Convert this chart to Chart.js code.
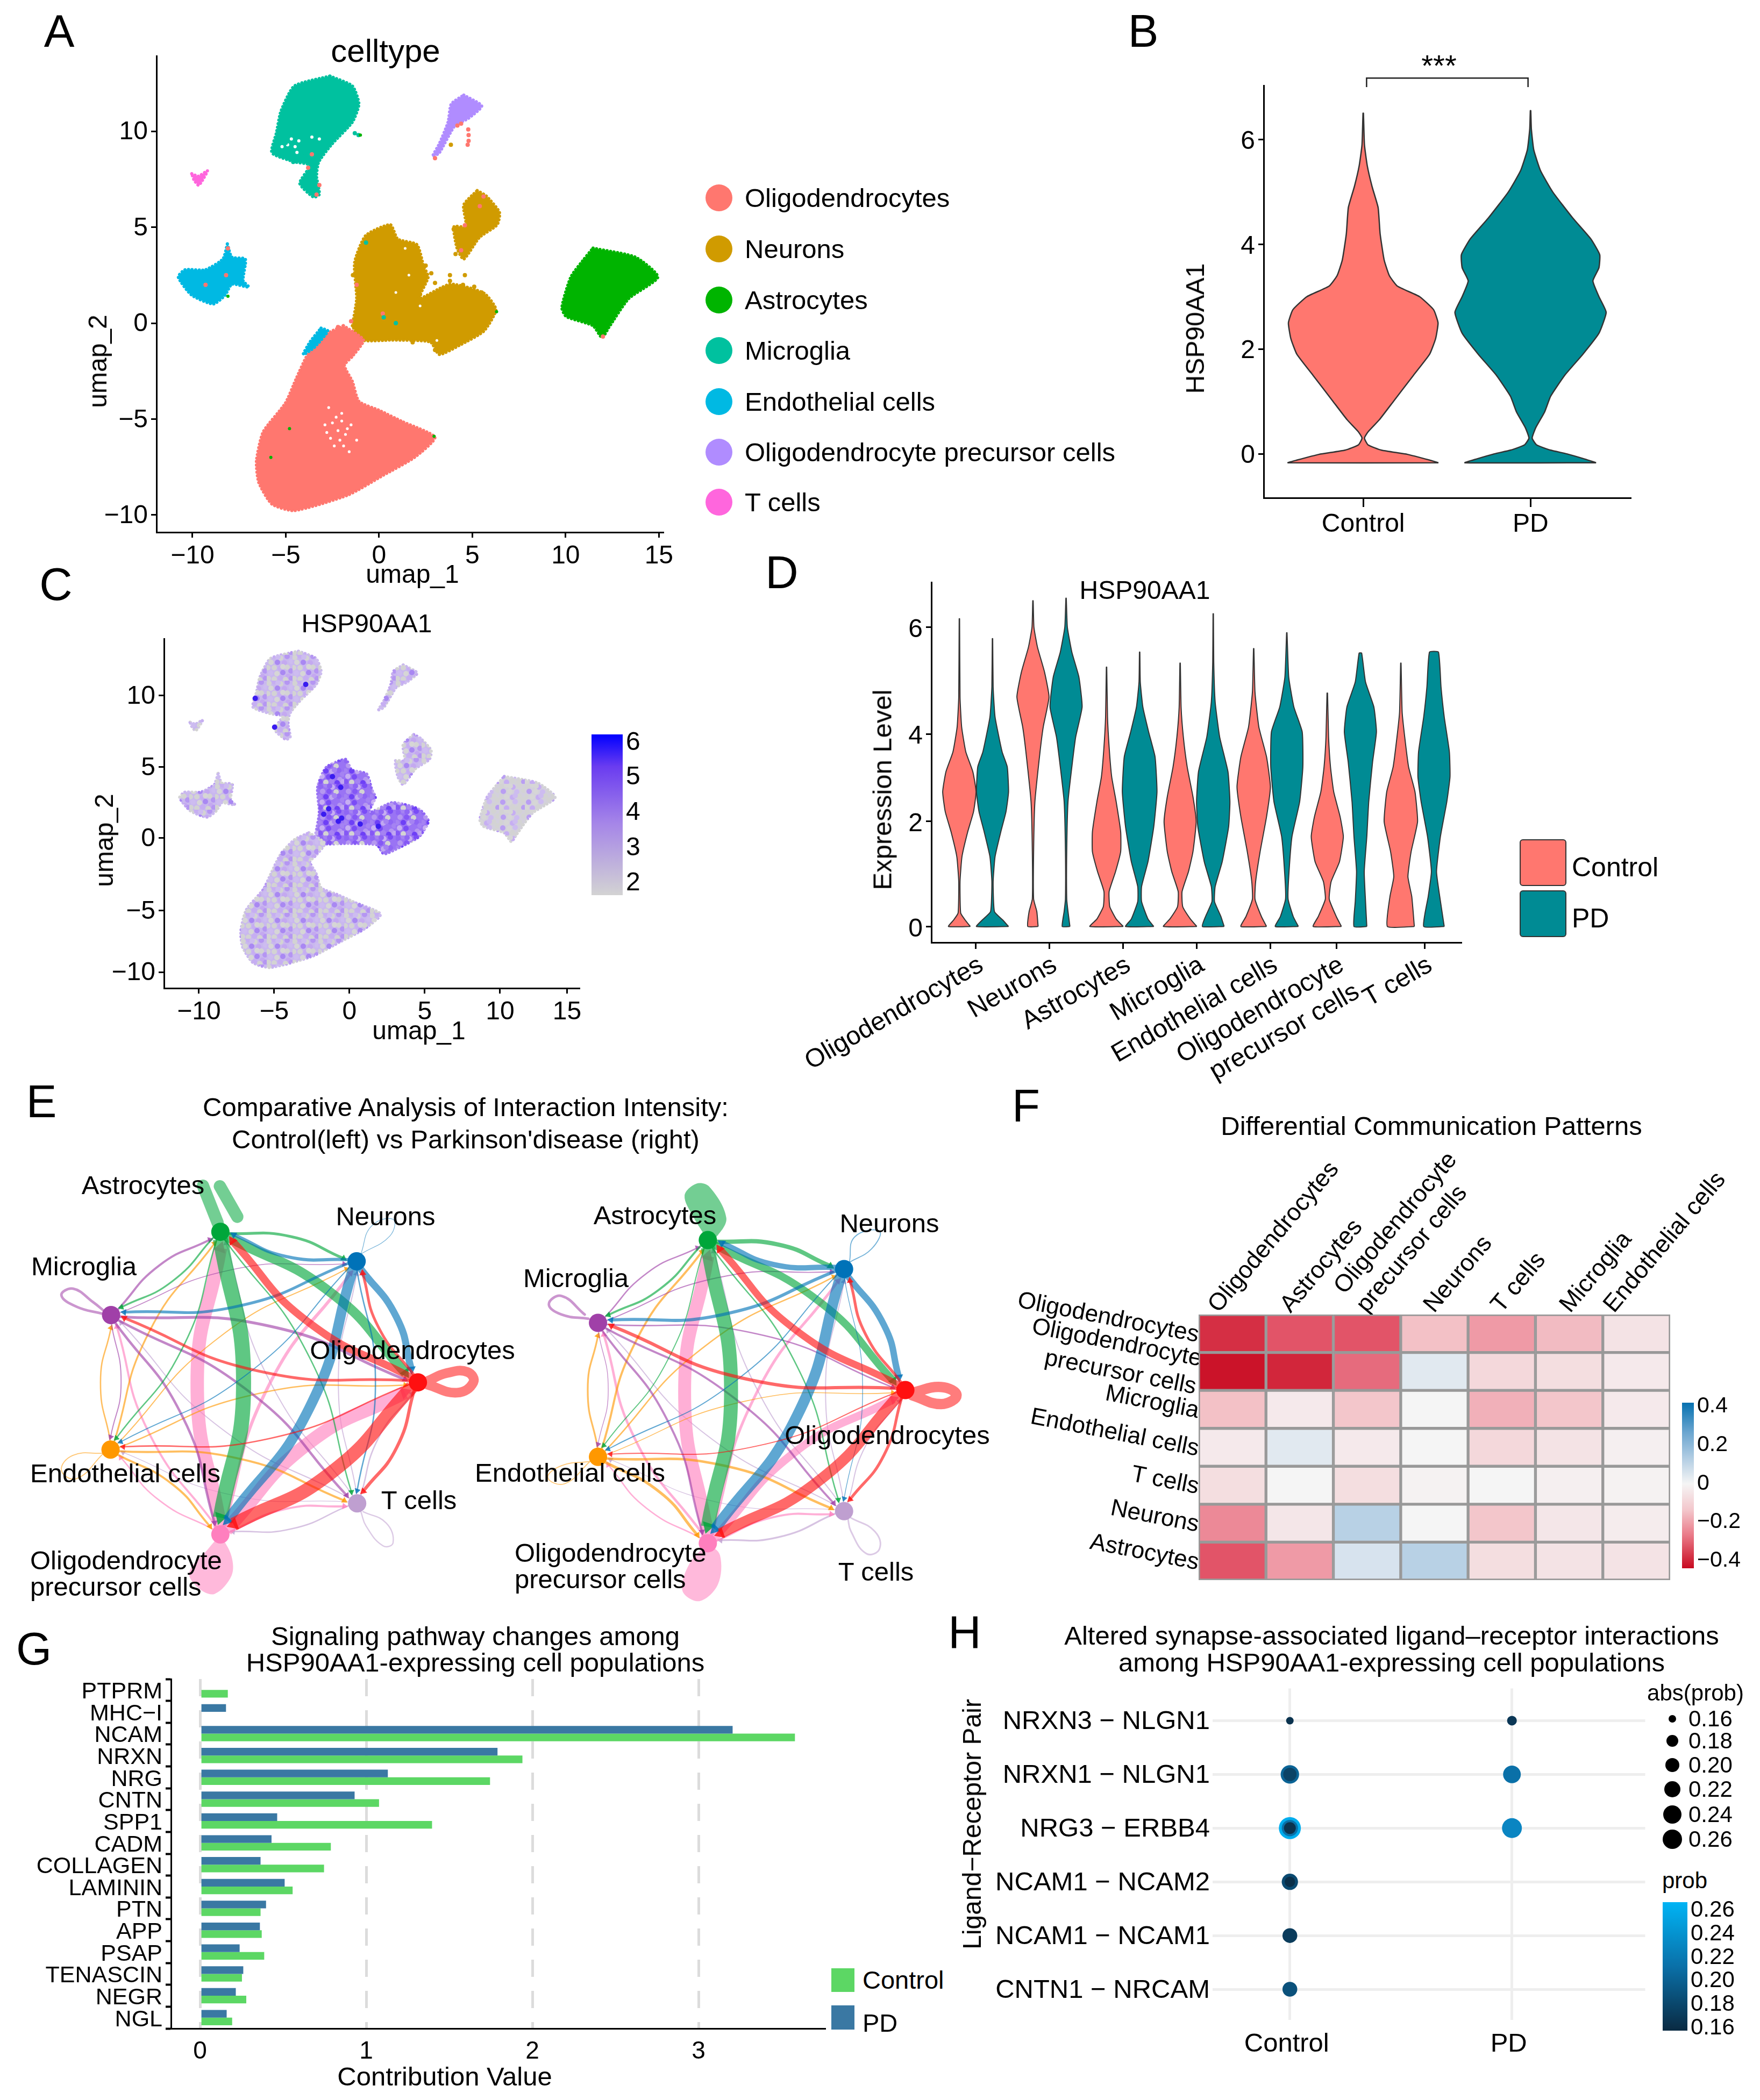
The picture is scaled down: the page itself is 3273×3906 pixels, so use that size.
<!DOCTYPE html>
<html>
<head>
<meta charset="utf-8">
<title>HSP90AA1 figure</title>
<script src="https://cdn.jsdelivr.net/npm/chart.js@4"></script>
<style>
  html, body { margin: 0; background: #fff; }
  body { position: relative; width: 3273px; height: 3906px; overflow: hidden; font-family: "Liberation Sans", Arial, sans-serif; color: #000; }
  canvas { position: absolute; }
  .t { position: absolute; white-space: nowrap; line-height: 1; }
  .s { position: absolute; box-sizing: border-box; }
</style>
</head>
<body>
<script>
// ---- panel A / C: umap cluster outlines [umap_1, umap_2]
const oligoOutline = [[-1.91,-.13],[-.84,-.88],[-1.43,-1.73],[-1.86,-2.2],[-1.43,-3.04],[-1.08,-4.08],[0,-4.54],[1.2,-5.11],[2.99,-5.95],[1.91,-6.99],[.24,-7.92],[-1.67,-8.96],[-4.54,-9.77],[-5.74,-9.43],[-6.45,-8.3],[-6.57,-7.17],[-6.21,-5.67],[-5.02,-4.17],[-4.42,-2.85],[-3.82,-1.63],[-2.87,-.6],[-1.91,-.13]];
const neuronOutline = [[-1.43,-.13],[-1.2,1.28],[-1.31,3.15],[-.72,4.56],[.6,5.13],[1,4.38],[2.03,4.09],[2.39,2.97],[2.63,2.4],[2.15,1.28],[3.82,2.03],[5.62,1.56],[6.26,.71],[5.62,-.41],[4.3,-1.16],[3.23,-1.63],[2.75,-.98],[.72,-.88],[-.96,-.88],[-1.43,-.13]];
const neuronUpperOutline = [[5.26,6.91],[5.74,6.63],[6.45,5.78],[6.33,5.13],[5.38,4.47],[4.54,3.34],[4.18,3.91],[4.02,5.03],[4.66,5.03],[4.54,6.16],[5.26,6.91]];
const astroOutline = [[11.47,3.91],[13.74,3.44],[14.94,2.4],[13.38,1.28],[12.31,-.23],[11.95,-.75],[11.47,-.13],[10.04,.34],[9.8,.81],[10.28,2.4],[10.99,3.34],[11.47,3.91]];
const microOutline = [[-2.63,12.88],[-1.43,12.36],[-1.08,11.42],[-1.43,10.48],[-2.51,9.35],[-3.23,8.41],[-3.35,7.66],[-3.2,6.72],[-3.51,6.57],[-4.25,7.29],[-3.7,8.23],[-4.54,8.41],[-5.74,8.88],[-5.5,9.92],[-5.26,11.04],[-4.54,12.36],[-2.63,12.88]];
const opcOutline = [[4.54,11.89],[5.5,11.32],[4.78,10.67],[4.06,10.29],[3.23,8.88],[2.87,8.69],[3.23,9.35],[3.7,10.48],[3.87,11.42],[4.54,11.89]];
const endoOutline = [[-8.13,4.13],[-7.89,3.44],[-7.17,3.34],[-7.29,2.22],[-6.98,1.88],[-7.89,2.03],[-8.25,1.46],[-8.89,1],[-10.04,1.46],[-10.76,2.4],[-10.4,2.78],[-9.32,2.78],[-8.37,3.34],[-8.13,4.13]];
const endoPatchOutline = [[-3.11,-.26],[-2.75,-.41],[-3.47,-1.26],[-4.06,-1.63],[-3.7,-.98],[-3.11,-.26]];
const tcellOutline = [[-10.04,7.79],[-9.68,7.66],[-9.2,7.94],[-9.51,7.38],[-9.68,7.19],[-9.92,7.47],[-10.04,7.79]];
const strayRed = [[4.78,10.1],[4.8,9.8],[4.8,9.5],[4.75,9.3],[4.2,10.3],[4.4,10.4],[3,8.6],[-3.35,6.7],[-3.2,7.2],[-3.6,8.8],[-3.8,8.1],[5.6,6.6],[5.4,6.1],[4.6,5.1],[4.4,3.8],[-1.2,2],[.2,.5],[-2.2,-.2],[-1.5,.1],[-8.2,2.5],[-9.3,2],[12,-.7],[-8.1,3.9]];
const strayGold = [[3.8,2.2],[4.5,2],[5.1,1.9],[5.5,1.6],[4,1.8],[3,2.1],[2.8,2.6],[2.5,3],[2.2,3.2],[3.5,1.7],[3,-1.4],[1.8,-1],[4.1,3.6],[4.3,4],[-1.4,2.5],[4,4.9],[2.2,1.5],[4.6,2.5],[3.8,2.5],[3.85,9.3]];
const strayTeal = [[-1.3,9.9],[-1.1,9.8],[-5.2,8.7],[-4.9,8.6],[-4.6,8.4],[-4,8.9],[-5,9.4],[.25,.3],[-.7,4.2],[.9,0]];
const strayGreen = [[-1,9.8],[6.3,.6],[-5.8,-7],[-8.1,1.4],[2.95,-5.9],[-4.8,-5.5]];
const oligoGaps = [[-2.5,-5.2],[-2,-5.1],[-2.2,-5.6],[-1.8,-5.8],[-2.6,-6],[-1.5,-5.3],[-2.9,-5.3],[-1.9,-6.4],[-2.4,-6.4],[-1.2,-6.1],[-2,-4.7],[-2.7,-4.4],[-1.6,-6.7],[-2.3,-4.9],[-1.7,-5.5],[-2.8,-5.7],[-2.1,-6.1]];
const microGaps = [[-4.9,9.3],[-4.5,9.2],[-4.7,9.6],[-4.3,9.5],[-5.2,9.2],[-4.4,8.9],[-3.6,9.7],[-3.2,9.6]];
const neuronGaps = [[1.4,3.9],[1.6,2.5],[2.2,.9],[.9,1.6],[3.1,-.9]];
const hiExpr = [[-.56,1.6],[.27,3.13],[.33,.92],[2.84,.34],[-4.26,7.44],[-5.59,9.5],[-2.13,10.5],[-.9,1.2],[1.6,.5],[.1,.7],[-.3,3.9]];

const umapXTicks = [-10,-5,0,5,10,15];
const umapYTicks = [-10,-5,0,5,10];
const umapXLabels = ['−10','−5','0','5','10','15'];
const umapYLabels = ['−10','−5','0','5','10'];
const cXTicks = [-10,-5,0,5,10,14.45];
const cYTicks = [-9.4,-5.08,0,5,10];
const cBarTicks = [1.87,2.9,3.93,4.95,5.95];
const cBarLabels = ['2','3','4','5','6'];

// ---- panel B: violins as [expression, density]
const bControl = [[-.17,187],[-.12,165],[-.01,110],[.07,45],[.17,12],[.3,3],[.42,12],[.65,40],[1,75],[1.5,125],[1.9,165],[2.2,180],[2.5,186],[2.75,175],[3,140],[3.2,85],[3.4,65],[3.7,52],[4.2,42],[4.7,37],[5.1,22],[5.5,10],[5.9,3],[6.5,.5]];
const bPD = [[-.17,163],[-.1,135],[0,90],[.07,50],[.17,15],[.3,4],[.5,13],[.8,35],[1.1,50],[1.5,85],[1.9,130],[2.3,170],[2.7,188],[3,170],[3.3,155],[3.55,170],[3.8,172],[4.1,150],[4.5,105],[5,55],[5.4,25],[5.8,8],[6.2,2],[6.55,.5]];
const bYTicks = [0,2,4,6];
const groupNames = ['Control','PD'];

// ---- panel D: violins per cell type, control then PD
const dCellTypes = ['Oligodendrocytes','Neurons','Astrocytes','Microglia','Endothelial cells',['Oligodendrocyte','precursor cells'],'T cells'];
const dTickPos = [0,1,2,3,4,4.9,6.1];
const dYTicks = [0,2.11,3.86,6];
const dYLabels = ['0','2','4','6'];
const dControl = [
  [[0,17],[.13,9],[.27,2],[.9,1],[1.4,4],[1.9,13],[2.3,22],[2.7,26],[3.1,21],[3.5,10],[4,3.5],[4.6,1],[6.17,.3]],
  [[0,8],[.3,6],[.55,1],[1.5,1],[2.5,3],[3.5,11],[4,16],[4.6,25],[5.1,18],[5.6,7],[6,1.5],[6.53,.3]],
  [[0,26],[.15,15],[.4,5],[.7,4],[1.1,14],[1.5,22],[1.9,22],[2.5,15],[3,8],[3.6,4],[4.2,1.5],[5.2,.3]],
  [[0,26],[.15,16],[.4,4],[.7,3],[1.1,13],[1.5,20],[2.1,25],[2.6,20],[3.2,11],[3.8,5],[4.4,1.5],[5.28,.3]],
  [[0,20],[.2,12],[.55,2],[.9,3],[1.5,10],[2.2,20],[2.8,26],[3.4,20],[4,8],[4.7,2],[5.57,.3]],
  [[0,22],[.2,14],[.55,3],[.9,6],[1.3,19],[1.8,25],[2.2,20],[2.7,10],[3.2,5],[3.8,2],[4.68,.4]],
  [[0,21],[.6,17],[1,11],[1.5,16],[2.1,26],[2.7,22],[3.2,12],[3.8,6],[4.3,2],[5.28,.3]]
];
const dPD = [
  [[0,25],[.13,16],[.3,3],[.9,1],[1.4,4],[1.9,13],[2.3,21],[2.7,25],[3.2,23],[3.5,15],[4.2,4],[4.8,1],[5.77,.3]],
  [[0,6],[.3,3],[.55,1],[1.5,1],[2.5,3],[3.2,9],[3.8,15],[4.4,25],[5,20],[5.5,9],[6,2],[6.58,.3]],
  [[0,22],[.15,13],[.5,3],[.8,3],[1.3,13],[2,22],[2.7,27],[3.4,24],[3.9,14],[4.4,5],[4.9,1],[5.5,.3]],
  [[0,17],[.2,12],[.5,2],[.8,3],[1.3,14],[2,24],[2.5,26],[3.1,23],[3.8,10],[4.5,3],[5.3,.8],[6.27,.3]],
  [[0,18],[.2,10],[.55,2],[1,3],[1.8,8],[2.5,20],[3.2,25],[3.9,24],[4.4,11],[5,3],[5.89,.3]],
  [[0,10],[.5,8],[1.1,6],[1.8,10],[2.5,13],[3.3,19],[3.9,25],[4.4,21],[4.9,8],[5.48,2]],
  [[0,16],[.6,9],[1.1,4],[1.8,10],[2.5,20],[3,25],[3.5,24],[4.2,16],[4.8,11],[5.5,7]]
];

// ---- panel E: node order is oligo, neurons, astro, microglia, endo, opc, t cells
const nodeColors = ['#ff1010','#0072b8','#00a63a','#a040a8','#ff9800','#ff7fbe','#bf9fd0'];
const ctrlNodeX = [774,658,400,193,192,400,659];
const ctrlNodeY = [2570,2336,2279,2440,2700,2864,2804];
const pdNodeX = [1697,1581,1323,1115,1115,1323,1581];
const pdNodeY = [2585,2351,2295,2455,2714,2881,2819];
const ctrlWeights = [
  [15,5,14,5,2,25,6],
  [13,1,6,4,1.5,19,2],
  [18,4,19,2.5,2,28,2],
  [4,1.2,3,4,1.5,3.5,3.5],
  [2,1.5,2.5,2,1.5,3,3],
  [25,4.5,25,3,2,3,3],
  [2,1.5,1.5,1.5,1,2,2]
];
const pdWeights = [
  [16,4,13,6,1.5,20,4],
  [12,1.5,10,4.5,1.5,20,1],
  [14,8,3,3,1.5,26,2],
  [2,1.5,2,4,1,3,3],
  [1.2,2,3,2.5,1.5,4,3.5],
  [15,5,24,3.5,2,3,3],
  [1.5,1.5,1.5,1.5,1,2.5,2.5]
];
const ctrlLoops = [
  [[791,2568],[829,2552],[868,2550],[879,2570],[848,2590],[791,2574]],
  [[666,2322],[686,2268],[727,2255],[721,2287],[666,2322]],
  [[395,2262],[367,2190],[NaN,NaN],[399,2191],[432,2250]],
  [[175,2437],[128,2424],[99,2402],[121,2389],[159,2415],[182,2434]],
  [[179,2707],[121,2711],[99,2740],[128,2756],[179,2707]],
  [[400,2864],[421,2906],[421,2944],[389,2979],[360,2969],[341,2938],[376,2893],[400,2864]],
  [[670,2820],[714,2842],[727,2880],[708,2886],[676,2848],[666,2820]]
];
const pdLoops = [
  [[1710,2590],[1765,2579],[1794,2595],[1765,2612],[1710,2595]],
  [[1591,2338],[1601,2289],[1648,2278],[1633,2312],[1591,2338]],
  [[1323,2295],[1295,2249],[1279,2209],[1301,2186],[1326,2192],[1358,2252],[1339,2289],[1323,2295]],
  [[1097,2447],[1046,2439],[1022,2419],[1046,2403],[1090,2439]],
  [[1100,2723],[1046,2731],[1020,2754],[1052,2766],[1100,2723]],
  [[1323,2881],[1346,2904],[1342,2961],[1307,2993],[1275,2973],[1288,2921],[1323,2881]],
  [[1594,2832],[1639,2858],[1648,2892],[1623,2901],[1594,2858],[1588,2832]]
];

// ---- panel F
const fRows = ['Oligodendrocytes',['Oligodendrocyte','precursor cells'],'Microglia','Endothelial cells','T cells','Neurons','Astrocytes'];
const fCols = ['Oligodendrocytes','Astrocytes',['Oligodendrocyte','precursor cells'],'Neurons','T cells','Microglia','Endothelial cells'];
const fColTicks = [.55,1.62,2.75,3.75,4.75,5.77,6.42];
const fMatrix = [
  [-.36,-.28,-.28,-.09,-.16,-.1,-.03],
  [-.42,-.38,-.24,.04,-.05,-.04,-.02],
  [-.09,-.02,-.08,0,-.12,-.08,-.02],
  [-.02,.04,-.02,0,-.05,-.03,-.01],
  [-.04,0,-.04,-.005,0,-.01,-.005],
  [-.19,-.025,.12,0,-.08,-.025,-.015],
  [-.28,-.16,.06,.12,-.04,-.03,-.03]
];
const fBarTicks = [-.4,-.2,0,.2,.4];
const fBarLabels = ['−0.4','−0.2','0','0.2','0.4'];

// ---- panel G
const gPathways = ['PTPRM','MHC−I','NCAM','NRXN','NRG','CNTN','SPP1','CADM','COLLAGEN','LAMININ','PTN','APP','PSAP','TENASCIN','NEGR','NGL'];
const gPD = [null,.156,3.205,1.79,1.13,.93,.464,.43,.364,.509,.397,.36,.238,.26,.215,.16];
const gControl = [.167,null,3.58,1.94,1.745,1.077,1.396,.787,.746,.557,.364,.371,.386,.252,.278,.193];
const gXTicks = [0,1,2,3];

// ---- panel H, larger dots first so the smaller ones stay visible on top
const hPairs = ['NRXN3 − NLGN1','NRXN1 − NLGN1','NRG3 − ERBB4','NCAM1 − NCAM2','NCAM1 − NCAM1','CNTN1 − NRCAM'];
const hGroup = [1,1,1,1,1,1,1,1,1,1,2,2,2];
const hRow =   [2,2,2,1,1,3,3,0,4,5,0,1,2];
const hAbs =   [.26,.22,.19,.235,.2,.22,.18,.16,.21,.21,.175,.23,.245];
const hProb =  [.26,.22,.17,.21,.185,.19,.165,.17,.18,.195,.175,.22,.235];
const hBarTicks = [.16,.18,.2,.22,.24,.26];

const RED = '#ff776f', TEAL = '#008b94';
Chart.defaults.font.family = '"Liberation Sans", Arial, sans-serif';
Chart.defaults.color = '#000';

function text(str, x, y, size, o = {}) {
  const el = document.createElement('div');
  el.className = 't';
  el.textContent = str;
  const shift = o.align === 'left' ? '0,-50%' : o.align === 'right' ? '-100%,-50%' : '-50%,-50%';
  el.style.cssText = `left:${x}px;top:${y}px;font-size:${size}px;transform:translate(${shift}) rotate(${o.rot || 0}deg);`;
  document.body.appendChild(el);
}

function swatch(l, t, w, h, color, extra = '') {
  const el = document.createElement('div');
  el.className = 's';
  el.style.cssText = `left:${l}px;top:${t}px;width:${w}px;height:${h}px;background:${color};${extra}`;
  document.body.appendChild(el);
}

// rect is the canvas on the page, plot is where the chart area has to land
function mount(rect, plot, cfg) {
  const c = document.createElement('canvas');
  c.width = rect.r - rect.l;
  c.height = rect.b - rect.t;
  c.style.left = rect.l + 'px';
  c.style.top = rect.t + 'px';
  document.body.appendChild(c);
  const size = { left: plot.l - rect.l, right: rect.r - plot.r, top: plot.t - rect.t, bottom: rect.b - plot.b };
  const pad = { ...size };
  const o = cfg.options;
  for (const s of Object.values(o.scales)) {
    if (s.display === false) continue;
    const side = s.position;
    pad[side] = 0;
    s.afterFit = a => {
      if (a.isHorizontal()) a.height = size[side]; else a.width = size[side];
      a.paddingLeft = a.paddingRight = a.paddingTop = a.paddingBottom = 0;
    };
  }
  o.responsive = false;
  o.animation = false;
  o.devicePixelRatio = 1;
  o.layout = { padding: pad };
  o.plugins = { legend: { display: false }, tooltip: { enabled: false }, title: { display: false } };
  return new Chart(c, cfg);
}

function axis(position, min, max, vals, labels, size, extra = {}) {
  const { ticks, grid, border, ...rest } = extra;
  return {
    type: 'linear', position, min, max,
    afterBuildTicks: s => { s.ticks = vals.map(value => ({ value })); },
    ticks: { autoSkip: false, maxRotation: 0, minRotation: 0, padding: 6, font: { size }, callback: (v, i) => labels[i], ...ticks },
    grid: { drawOnChartArea: false, drawTicks: true, tickLength: 10, tickWidth: 3, tickColor: '#000', ...grid },
    border: { display: true, color: '#000', width: 3, ...border },
    ...rest
  };
}

const hidden = (min, max, extra = {}) => ({ type: 'linear', display: false, min, max, ...extra });
const asPts = arr => arr.map(([x, y]) => ({ x, y }));

function blob(pts, color, border) {
  return { data: asPts(pts), showLine: true, fill: 'shape', tension: .2, backgroundColor: color, borderColor: border || color,
    borderWidth: 6, borderDash: [.1, 6.5], borderCapStyle: 'round', pointRadius: 0 };
}
function dots(pts, color, r) {
  return { data: asPts(pts), backgroundColor: color, pointRadius: r, pointBorderWidth: 0 };
}

// ---- A
const aSets = [
  dots(strayGreen, '#00b400', 3), dots(strayTeal, '#00c19f', 4), dots(strayRed, RED, 4), dots(strayGold, '#d09b00', 4),
  dots(oligoGaps, '#fff', 2.6), dots(microGaps, '#fff', 3), dots(neuronGaps, '#fff', 2.5),
  blob(endoPatchOutline, '#00b9e3'), blob(oligoOutline, RED), blob(neuronOutline, '#d09b00'), blob(neuronUpperOutline, '#d09b00'),
  blob(astroOutline, '#00b400'), blob(microOutline, '#00c19f'), blob(opcOutline, '#b08cff'), blob(endoOutline, '#00b9e3'), blob(tcellOutline, '#ff66dd')
];
mount({ l: 150, r: 1300, t: 90, b: 1090 }, { l: 291, r: 1234, t: 104, b: 990 }, {
  type: 'scatter', data: { datasets: aSets },
  options: { scales: {
    x: axis('bottom', -11.93, 15.25, umapXTicks, umapXLabels, 48),
    y: axis('left', -10.9, 13.93, umapYTicks, umapYLabels, 48, { ticks: { labelOffset: 2 } })
  } }
});
text('celltype', 717, 95, 60);
text('umap_1', 767, 1068, 48);
text('umap_2', 182, 672, 48, { rot: -90 });
const aLegend = [['Oligodendrocytes', RED, 368], ['Neurons', '#d09b00', 463], ['Astrocytes', '#00b400', 558], ['Microglia', '#00c19f', 652], ['Endothelial cells', '#00b9e3', 747], ['Oligodendrocyte precursor cells', '#b08cff', 841], ['T cells', '#ff66dd', 934]];
aLegend.forEach(([name, color, y]) => {
  swatch(1312, y - 25, 50, 50, color, 'border-radius:50%;');
  text(name, 1385, y, 49, { align: 'left' });
});

// ---- B
function violinOutline(center, pairs, unit) {
  const right = pairs.map(([y, d]) => ({ x: center + d / unit, y }));
  const left = pairs.map(([y, d]) => ({ x: center - d / unit, y })).reverse();
  return [...right, ...left, right[0]];
}
function violin(center, pairs, unit, color, lw) {
  return { data: violinOutline(center, pairs, unit), showLine: true, fill: 'shape', tension: .15, backgroundColor: color, borderColor: '#333', borderWidth: lw, pointRadius: 0 };
}
mount({ l: 2240, r: 3100, t: 100, b: 1030 }, { l: 2350, r: 3033, t: 159, b: 926 }, {
  type: 'scatter',
  data: { datasets: [
    { data: [{ x: 1.02, y: 7 }, { x: 1.02, y: 7.17 }, { x: 1.985, y: 7.17 }, { x: 1.985, y: 7 }], showLine: true, clip: false, borderColor: '#222', borderWidth: 2.5, pointRadius: 0 },
    violin(1, bControl, 416, RED, 2.5), violin(2, bPD, 416, TEAL, 2.5)
  ] },
  options: { scales: {
    x: axis('bottom', .405, 2.6, [1, 2], groupNames, 48, { grid: { tickLength: 17 }, ticks: { padding: 4 } }),
    y: axis('left', -.84, 7.03, bYTicks, bYTicks.map(String), 48, { ticks: { labelOffset: 4 } })
  } }
});
text('***', 2676, 122, 56);
text('HSP90AA1', 2223, 611, 48, { rot: -90 });

// ---- C
const tilePts = [[4,5],[14,2],[26,6],[38,3],[46,12],[8,14],[20,14],[33,15],[2,24],[14,24],[25,25],[38,23],[45,30],[7,34],[19,35],[30,33],[40,40],[3,44],[14,45],[25,43],[35,46],[46,44],[21,4],[30,22]];
function speckle(base, palette) {
  const t = document.createElement('canvas');
  t.width = t.height = 48;
  const g = t.getContext('2d');
  g.fillStyle = base;
  g.fillRect(0, 0, 48, 48);
  tilePts.forEach(([x, y], i) => {
    g.fillStyle = palette[i % palette.length];
    g.beginPath();
    g.arc(x, y, 5, 0, Math.PI * 2);
    g.fill();
  });
  return g.createPattern(t, 'repeat');
}
const paleTile = speckle('#c9b8ee', ['#d3d3d3', '#c6aef2', '#d3d3d3', '#b596f2', '#cdbcf0', '#d6d6d6', '#a988f2', '#c4a9f0', '#d3d3d3']);
const greyTile = speckle('#d3d0dc', ['#d3d3d3', '#d6d6d6', '#c6aef2', '#d3d3d3', '#d3d3d3', '#b99ef2', '#d6d6d6', '#cdbcf0']);
const strongTile = speckle('#9a74f4', ['#8f66f4', '#a583f2', '#c6aef2', '#7a4cf6', '#9a74f4', '#b598f0', '#8558f5', '#d3d3d3', '#a583f2', '#6e40f6', '#c0a8f0']);
const toC = pts => pts.map(([x, y]) => [.97 * x - .84, .98 * y + .5]);
const cSets = [
  dots(toC(hiExpr), '#3a1cf0', 5),
  blob(toC(oligoOutline), paleTile), blob(toC(neuronOutline), strongTile), blob(toC(neuronUpperOutline), paleTile),
  blob(toC(astroOutline), greyTile), blob(toC(microOutline), paleTile), blob(toC(opcOutline), paleTile),
  blob(toC(endoOutline), paleTile), blob(toC(tcellOutline), paleTile)
];
mount({ l: 160, r: 1090, t: 1170, b: 1900 }, { l: 305, r: 1078, t: 1188, b: 1838 }, {
  type: 'scatter', data: { datasets: cSets },
  options: { scales: {
    x: axis('bottom', -12.32, 15.29, cXTicks, umapXLabels, 48),
    y: axis('left', -10.53, 14, cYTicks, umapYLabels, 48, { ticks: { labelOffset: 2 } })
  } }
});
text('HSP90AA1', 682, 1160, 48);
text('umap_1', 779, 1917, 48);
text('umap_2', 194, 1563, 48, { rot: -90 });

function colorBar(rect, plot, min, max, vals, labels, stops, size) {
  mount(rect, plot, {
    type: 'bar',
    data: { labels: [''], datasets: [{
      data: [[min, max]], barPercentage: 1, categoryPercentage: 1,
      backgroundColor: ctx => {
        const a = ctx.chart.chartArea;
        if (!a) return stops[0][1];
        const g = ctx.chart.ctx.createLinearGradient(0, a.bottom, 0, a.top);
        stops.forEach(([p, col]) => g.addColorStop(p, col));
        return g;
      }
    }] },
    options: { scales: {
      x: { type: 'category', display: false },
      y: axis('right', min, max, vals, labels, size, { border: { display: false }, grid: { drawTicks: false }, ticks: { padding: 6 } })
    } }
  });
}
colorBar({ l: 1100, r: 1240, t: 1340, b: 1690 }, { l: 1100, r: 1158, t: 1366, b: 1665 }, 1.53, 6.2, cBarTicks, cBarLabels,
  [[0, '#d3d3d3'], [.45, '#a585e8'], [.8, '#6a3cf0'], [1, '#0000ff']], 48);

// ---- D
const dSets = [];
dControl.forEach((pairs, i) => dSets.push(violin(i - .225, pairs, 114.6, RED, 2)));
dPD.forEach((pairs, i) => dSets.push(violin(i + .225, pairs, 114.6, TEAL, 2)));
mount({ l: 1400, r: 2760, t: 1060, b: 2030 }, { l: 1732, r: 2718, t: 1083, b: 1753 }, {
  type: 'scatter', data: { datasets: dSets },
  options: { scales: {
    x: axis('bottom', -.606, 6.6, dTickPos, dCellTypes, 48, { ticks: { maxRotation: 30, minRotation: 30, font: { size: 48 }, padding: 2, labelOffset: 10 }, grid: { tickLength: 12 } }),
    y: axis('left', -.32, 6.9, dYTicks, dYLabels, 48, { ticks: { labelOffset: 5 } })
  } }
});
text('HSP90AA1', 2129, 1098, 48);
text('Expression Level', 1641, 1469, 49, { rot: -90 });
swatch(2826, 1561, 87, 87, RED, 'border:2px solid #333;border-radius:6px;');
swatch(2826, 1656, 87, 87, TEAL, 'border:2px solid #333;border-radius:6px;');
text('Control', 2923, 1613, 50, { align: 'left' });
text('PD', 2923, 1708, 50, { align: 'left' });

// ---- E
function networkSets(nx, ny, weights, loops, blobs) {
  const sets = nx.map((x, i) => ({ data: [{ x, y: ny[i] }], backgroundColor: nodeColors[i], pointRadius: 17, pointBorderWidth: 0 }));
  weights.forEach((row, i) => row.forEach((w, j) => {
    if (i === j) return;
    const dx = nx[j] - nx[i], dy = ny[j] - ny[i], L = Math.hypot(dx, dy);
    const ux = dx / L, uy = dy / L;
    const head = 6 + w * .3;
    const cx = (nx[i] + nx[j]) / 2 + dy * .15, cy = (ny[i] + ny[j]) / 2 - dx * .15;
    const ex = nx[j] - ux * (18 + head), ey = ny[j] - uy * (18 + head);
    const rot = Math.atan2(ex - cx, -(ey - cy)) * 180 / Math.PI;
    sets.push({
      data: [{ x: nx[i] + ux * 14, y: ny[i] + uy * 14 }, { x: (nx[i] + nx[j]) / 2 + dy * .075, y: (ny[i] + ny[j]) / 2 - dx * .075 }, { x: ex, y: ey }],
      showLine: true, tension: .5, borderColor: nodeColors[i] + 'a0', borderWidth: w < 5 ? w * 1.3 : w, borderCapStyle: 'butt',
      pointStyle: 'triangle', pointRadius: [0, 0, head], pointRotation: [0, 0, rot], pointBackgroundColor: nodeColors[i] + 'd0', pointBorderWidth: 0
    });
  }));
  loops.forEach((pts, i) => {
    const color = nodeColors[i] + '8c';
    if (blobs.includes(i)) {
      sets.push({ data: asPts(pts), showLine: true, fill: 'shape', tension: .35, backgroundColor: color, borderColor: 'transparent', pointRadius: 0 });
    } else {
      sets.push({ data: asPts(pts), showLine: true, tension: i === 2 && nx === ctrlNodeX ? 0 : .45, borderColor: color, borderWidth: weights[i][i] * 1.2, borderCapStyle: 'round', borderJoinStyle: 'round', pointRadius: 0 });
    }
  });
  return sets;
}
mount({ l: 0, r: 1900, t: 2150, b: 3050 }, { l: 0, r: 1900, t: 2150, b: 3050 }, {
  type: 'scatter',
  data: { datasets: [...networkSets(ctrlNodeX, ctrlNodeY, ctrlWeights, ctrlLoops, [5]), ...networkSets(pdNodeX, pdNodeY, pdWeights, pdLoops, [2, 5])] },
  options: { scales: { x: hidden(0, 1900), y: hidden(2150, 3050, { reverse: true }) } }
});
text('Comparative Analysis of Interaction Intensity:', 866, 2059, 49);
text("Control(left) vs Parkinson'disease (right)", 866, 2119, 49);
[['Astrocytes', 266, 2204], ['Neurons', 717, 2262], ['Microglia', 156, 2355], ['Oligodendrocytes', 767, 2511], ['Endothelial cells', 233, 2740], ['T cells', 779, 2790],
 ['Astrocytes', 1218, 2260], ['Neurons', 1654, 2275], ['Microglia', 1071, 2377], ['Oligodendrocytes', 1650, 2669], ['Endothelial cells', 1060, 2739], ['T cells', 1629, 2923]]
  .forEach(([s, x, y]) => text(s, x, y, 49));
text('Oligodendrocyte', 56, 2902, 49, { align: 'left' });
text('precursor cells', 56, 2951, 49, { align: 'left' });
text('Oligodendrocyte', 957, 2888, 49, { align: 'left' });
text('precursor cells', 957, 2937, 49, { align: 'left' });

// ---- F
const heatStops = [[-.44, [200, 10, 32]], [-.28, [226, 84, 104]], [-.16, [239, 154, 166]], [-.08, [243, 198, 203]], [0, [245, 245, 245]], [.06, [215, 227, 238]], [.12, [184, 209, 229]], [.25, [107, 166, 208]], [.42, [5, 113, 176]]];
function heatColor(v) {
  for (let i = 1; i < heatStops.length; i++) {
    const [p1, c1] = heatStops[i], [p0, c0] = heatStops[i - 1];
    if (v <= p1) {
      const k = (v - p0) / (p1 - p0);
      return `rgb(${c0.map((c, n) => Math.round(c + (c1[n] - c) * k)).join(',')})`;
    }
  }
  return 'rgb(5,113,176)';
}
const fCells = fCols.map((name, j) => ({
  label: String(name), data: fRows.map(() => 1), backgroundColor: fRows.map((r, i) => heatColor(fMatrix[i][j])),
  borderColor: '#999', borderWidth: 3, borderSkipped: false, barPercentage: 1, categoryPercentage: 1
}));
mount({ l: 1860, r: 3273, t: 2130, b: 2960 }, { l: 2229, r: 3106, t: 2445, b: 2939 }, {
  type: 'bar', data: { labels: fRows, datasets: fCells },
  options: { indexAxis: 'y', scales: {
    x: axis('top', 0, 7, fColTicks, fCols, 45, { stacked: true, border: { display: false }, grid: { drawTicks: false }, ticks: { maxRotation: 50, minRotation: 50, padding: -8, font: { size: 45 } } }),
    y: { type: 'category', position: 'left', stacked: true, border: { display: false }, grid: { display: false },
      ticks: { autoSkip: false, minRotation: -11, maxRotation: -11, padding: -8, labelOffset: 4, font: { size: 44 } } }
  } }
});
text('Differential Communication Patterns', 2662, 2094, 49);
colorBar({ l: 3128, r: 3273, t: 2585, b: 2940 }, { l: 3128, r: 3150, t: 2609, b: 2917 }, -.44, .42, fBarTicks, fBarLabels,
  [[0, '#c80a20'], [.2, '#ea7a88'], [.35, '#f3c6cb'], [.51, '#f5f5f5'], [.65, '#b8d1e5'], [.82, '#6ba6d0'], [1, '#0571b0']], 41);

// ---- G
mount({ l: 0, r: 1560, t: 3100, b: 3850 }, { l: 318, r: 1533, t: 3123, b: 3773 }, {
  type: 'bar',
  data: { labels: gPathways, datasets: [
    { label: 'PD', data: gPD, backgroundColor: '#3a78a3', categoryPercentage: .7, barPercentage: 1 },
    { label: 'Control', data: gControl, backgroundColor: '#5cd764', categoryPercentage: .7, barPercentage: 1 }
  ] },
  options: { indexAxis: 'y', scales: {
    x: axis('bottom', -.175, 3.757, gXTicks, gXTicks.map(String), 46, {
      grid: { drawOnChartArea: true, drawTicks: false, color: '#dcdcdc', lineWidth: 5 },
      border: { dash: [32, 26] }, ticks: { padding: 16 } }),
    y: { type: 'category', position: 'left', border: { display: true, color: '#000', width: 3 },
      grid: { drawOnChartArea: false, drawTicks: true, tickLength: 10, tickWidth: 4, tickColor: '#000' },
      ticks: { autoSkip: false, padding: 6, labelOffset: 4, font: { size: 43 } } }
  } }
});
text('Signaling pathway changes among', 884, 3043, 49);
text('HSP90AA1-expressing cell populations', 884, 3092, 49);
text('Contribution Value', 827, 3862, 49);
swatch(1546, 3661, 43, 44, '#5cd764');
swatch(1546, 3730, 43, 45, '#3a78a3');
text('Control', 1604, 3682, 47, { align: 'left' });
text('PD', 1604, 3762, 47, { align: 'left' });

// ---- H
const probStops = [[.16, [10, 42, 66]], [.18, [11, 60, 92]], [.2, [11, 88, 133]], [.22, [10, 112, 168]], [.24, [10, 140, 202]], [.26, [0, 173, 238]]];
function probColor(p) {
  for (let i = 1; i < probStops.length; i++) {
    const [p1, c1] = probStops[i], [p0, c0] = probStops[i - 1];
    if (p <= p1) {
      const k = Math.max(0, (p - p0) / (p1 - p0));
      return `rgb(${c0.map((c, n) => Math.round(c + (c1[n] - c) * k)).join(',')})`;
    }
  }
  return 'rgb(0,173,238)';
}
const probRadius = v => 7 + (v - .16) * 135;
mount({ l: 1820, r: 3080, t: 3120, b: 3830 }, { l: 2255, r: 3061, t: 3137, b: 3757 }, {
  type: 'bubble',
  data: { datasets: [{
    data: hGroup.map((x, i) => ({ x, y: hRow[i], r: probRadius(hAbs[i]) })),
    backgroundColor: hProb.map(probColor), borderWidth: 0
  }] },
  options: { scales: {
    x: axis('bottom', .652, 2.6, [1, 2], groupNames, 49, { border: { display: false }, grid: { drawOnChartArea: true, drawTicks: false, color: '#eeeeee', lineWidth: 5 }, ticks: { padding: 16, labelOffset: -6 } }),
    y: axis('left', -.6, 5.57, [0, 1, 2, 3, 4, 5], hPairs, 49, { reverse: true, border: { display: false }, grid: { drawOnChartArea: true, drawTicks: false, color: '#eeeeee', lineWidth: 5 }, ticks: { padding: 5, labelOffset: 2 } })
  } }
});
text('Altered synapse-associated ligand–receptor interactions', 2588, 3042, 49);
text('among HSP90AA1-expressing cell populations', 2588, 3092, 49);
text('Ligand−Receptor Pair', 1808, 3393, 48, { rot: -90 });
text('abs(prob)', 3153, 3149, 42);
text('prob', 3133, 3498, 42);
[[.16, 3197], [.18, 3238], [.2, 3283], [.22, 3328], [.24, 3375], [.26, 3421]].forEach(([v, y]) => {
  const r = [7, 11, 13, 15, 17, 18][Math.round((v - .16) / .02)];
  swatch(3110 - r, y - r, 2 * r, 2 * r, '#000', 'border-radius:50%;');
  text(v.toFixed(2), 3140, y, 42, { align: 'left' });
});
colorBar({ l: 3092, r: 3273, t: 3515, b: 3800 }, { l: 3092, r: 3138, t: 3538, b: 3777 }, .158, .267, hBarTicks, hBarTicks.map(v => v.toFixed(2)),
  [[0, '#0a2a42'], [.5, '#0a70a8'], [1, '#00b4f5']], 42);

// ---- panel letters
[['A', 110, 57], ['B', 2126, 57], ['C', 104, 1086], ['D', 1454, 1064], ['E', 77, 2048], ['F', 1908, 2056], ['G', 63, 3066], ['H', 1794, 3035]]
  .forEach(([s, x, y]) => text(s, x, y, 85));
</script>
</body>
</html>
